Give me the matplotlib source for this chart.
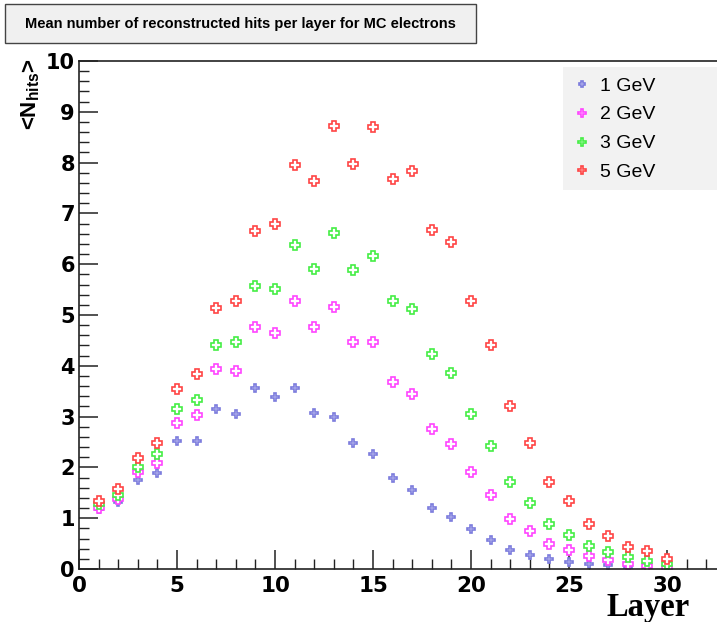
import matplotlib
matplotlib.use("Agg")
import matplotlib.pyplot as plt
from matplotlib.ticker import MultipleLocator
from matplotlib.patches import Rectangle

# Mean number of reconstructed hits per calorimeter layer
layers = list(range(1, 31))
hits_1gev = [1.19, 1.32, 1.75, 1.88, 2.51, 2.51, 3.14, 3.05, 3.57, 3.38,
             3.56, 3.08, 3.00, 2.48, 2.26, 1.80, 1.56, 1.21, 1.02, 0.78,
             0.58, 0.38, 0.28, 0.19, 0.14, 0.10, 0.07, 0.04, 0.03, 0.01]
hits_2gev = [1.20, 1.37, 1.90, 2.09, 2.88, 3.03, 3.93, 3.90, 4.76, 4.64,
             5.28, 4.76, 5.15, 4.47, 4.46, 3.69, 3.44, 2.76, 2.46, 1.90,
             1.45, 0.98, 0.75, 0.49, 0.37, 0.25, 0.18, 0.10, 0.065, 0.02]
hits_3gev = [1.28, 1.46, 2.01, 2.26, 3.15, 3.33, 4.41, 4.46, 5.58, 5.51,
             6.38, 5.91, 6.61, 5.88, 6.16, 5.27, 5.12, 4.24, 3.85, 3.06,
             2.43, 1.71, 1.29, 0.89, 0.66, 0.45, 0.33, 0.23, 0.15, 0.09]
hits_5gev = [1.33, 1.57, 2.19, 2.49, 3.54, 3.84, 5.14, 5.28, 6.65, 6.80,
             7.95, 7.64, 8.73, 7.98, 8.70, 7.67, 7.83, 6.67, 6.43, 5.27,
             4.41, 3.20, 2.49, 1.71, 1.34, 0.89, 0.65, 0.43, 0.35, 0.19]

series_labels = ["1 GeV", "2 GeV", "3 GeV", "5 GeV"]
series_values = [hits_1gev, hits_2gev, hits_3gev, hits_5gev]
series_colors = ["#7b7bdd", "#ff44ff", "#44ee44", "#ff4444"]
marker_sizes = [5.5, 7.0, 7.0, 7.0]

plt.rcParams["font.family"] = ["Liberation Sans", "DejaVu Sans"]
plt.rcParams["mathtext.fontset"] = "custom"
plt.rcParams["mathtext.bf"] = "Liberation Sans:bold"
plt.rcParams["mathtext.rm"] = "Liberation Sans"

W, H = 717, 622
fig = plt.figure(figsize=(W / 100, H / 100), dpi=100)

x0, y0, ytop = 79, 569, 61
ax = fig.add_axes([x0 / W, 1 - y0 / H, (W - x0) / W, (y0 - ytop) / H])
ax.set_xlim(0, (W - x0) / 19.6)
ax.set_ylim(0, 10)

handles = []
for vals, lab, col, ms in zip(series_values, series_labels, series_colors, marker_sizes):
    h, = ax.plot(layers, vals, linestyle="none", marker="P", markersize=ms,
                 markerfacecolor="white", markeredgecolor=col,
                 markeredgewidth=1.2, label=lab, zorder=2)
    handles.append(h)

ax.spines["right"].set_visible(False)
for side in ("left", "bottom", "top"):
    ax.spines[side].set_linewidth(1.2)
    ax.spines[side].set_color("#222222")

ax.xaxis.set_major_locator(MultipleLocator(5))
ax.xaxis.set_minor_locator(MultipleLocator(1))
ax.yaxis.set_major_locator(MultipleLocator(1))
ax.yaxis.set_minor_locator(MultipleLocator(0.2))
ax.tick_params(which="both", direction="in", top=False, right=False,
               color="#222222")
ax.tick_params(which="major", length=13.5, width=1.1)
ax.tick_params(which="minor", length=7, width=1.0)
ax.tick_params(axis="x", labelsize=15.5, pad=5)
ax.tick_params(axis="y", labelsize=15, pad=3)
for lbl in ax.get_xticklabels() + ax.get_yticklabels():
    lbl.set_fontweight("bold")
    lbl.set_family("DejaVu Sans")

# Legend panel
fig.add_artist(Rectangle((563 / W, 1 - 190 / H), (W - 563) / W, 123 / H,
                         transform=fig.transFigure, facecolor="#f2f2f2",
                         edgecolor="none", zorder=3))
leg = fig.legend(handles, series_labels, loc="upper left",
                 bbox_to_anchor=(572 / W, 1 - 77 / H),
                 bbox_transform=fig.transFigure, frameon=False,
                 fontsize=14, handlelength=1.0, handletextpad=0.44,
                 borderpad=0, borderaxespad=0, labelspacing=0.58,
                 markerscale=0.8)
leg.set_zorder(5)

# Title box with a drop shadow
fig.add_artist(Rectangle((6 / W, 1 - 44 / H), 471 / W, 39 / H,
                         transform=fig.transFigure, facecolor="#777777",
                         edgecolor="none", zorder=3))
fig.add_artist(Rectangle((5 / W, 1 - 43 / H), 471 / W, 39 / H,
                         transform=fig.transFigure, facecolor="#f0f0f0",
                         edgecolor="#444444", linewidth=1.0, zorder=3))
fig.text(240 / W, 1 - 24 / H,
         "Mean number of reconstructed hits per layer for MC electrons",
         ha="center", va="center", fontsize=10.5, fontweight="bold", zorder=4)

# Axis titles
fig.text(31 / W, 1 - 58 / H, r"<N$_{\mathbf{hits}}$>", rotation=90,
         ha="center", va="top", fontsize=16, fontweight="bold")
fig.text(690 / W, 1 - 616 / H, "Layer", ha="right", va="baseline",
         fontsize=23.5, fontweight="bold", family="Liberation Serif")

fig.savefig("out.png", dpi=100)
